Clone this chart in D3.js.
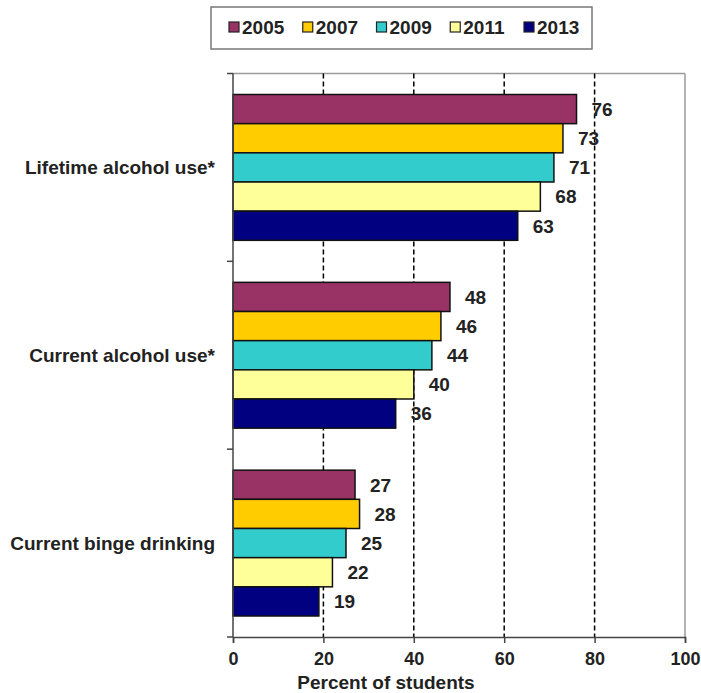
<!DOCTYPE html>
<html>
<head>
<meta charset="utf-8">
<script src="https://cdn.jsdelivr.net/npm/d3@7"></script>
<style>
  html, body { margin: 0; padding: 0; background: #fff; }
  svg { display: block; font-family: Arial, "Liberation Sans", sans-serif; font-weight: bold; }
</style>
</head>
<body>
<svg id="chart" width="701" height="693"></svg>
<script>
// Alcohol use among students, by survey year
const categories = ["Lifetime alcohol use*", "Current alcohol use*", "Current binge drinking"];
const years = ["2005", "2007", "2009", "2011", "2013"];
const values2005 = [76, 48, 27];
const values2007 = [73, 46, 28];
const values2009 = [71, 44, 25];
const values2011 = [68, 40, 22];
const values2013 = [63, 36, 19];
const xTicks = [0, 20, 40, 60, 80, 100];
const colors = ["#993366", "#FFCC00", "#33CCCC", "#FFFF99", "#000080"];

const seriesValues = [values2005, values2007, values2009, values2011, values2013];
const rows = [];
categories.forEach((c, ci) => {
  years.forEach((y, yi) => rows.push({ category: c, year: y, value: seriesValues[yi][ci], color: colors[yi] }));
});

const svg = d3.select("#chart");
const m = { left: 233, right: 685, top: 73.5, bottom: 637 };

const x = d3.scaleLinear().domain([0, 100]).range([m.left, m.right]);
const y = d3.scaleBand().domain(categories).range([m.top, m.bottom]);
const bandPad = 21;
const yInner = d3.scaleBand().domain(years).range([bandPad, y.bandwidth() - bandPad]);

// plot frame (top and right)
svg.append("line").attr("x1", m.left).attr("x2", m.right).attr("y1", m.top).attr("y2", m.top)
  .attr("stroke", "#9a9a9a").attr("stroke-width", 1.5);
svg.append("line").attr("x1", m.right).attr("x2", m.right).attr("y1", m.top).attr("y2", m.bottom)
  .attr("stroke", "#9a9a9a").attr("stroke-width", 1.5);

// dashed vertical gridlines
svg.append("g").selectAll("line").data(xTicks.filter(t => t > 0 && t < 100)).join("line")
  .attr("x1", d => x(d)).attr("x2", d => x(d))
  .attr("y1", m.top).attr("y2", m.bottom)
  .attr("stroke", "#000").attr("stroke-width", 1.5).attr("stroke-dasharray", "5,3");

// bars
svg.append("g").selectAll("rect").data(rows).join("rect")
  .attr("x", x(0))
  .attr("y", d => y(d.category) + yInner(d.year))
  .attr("width", d => x(d.value) - x(0))
  .attr("height", yInner.bandwidth())
  .attr("fill", d => d.color)
  .attr("stroke", "#111").attr("stroke-width", 1.5);

// value labels
svg.append("g").selectAll("text").data(rows).join("text")
  .attr("x", d => x(d.value) + 15)
  .attr("y", d => y(d.category) + yInner(d.year) + yInner.bandwidth() / 2)
  .attr("dy", "0.36em")
  .attr("font-size", 19)
  .attr("fill", "#222")
  .text(d => d.value);

// x axis
const xAxis = svg.append("g").attr("transform", `translate(0,${m.bottom})`)
  .call(d3.axisBottom(x).tickValues(xTicks).tickSize(6).tickPadding(9));
xAxis.select(".domain").attr("stroke", "#444").attr("stroke-width", 1.5);
xAxis.selectAll(".tick line").attr("stroke", "#444").attr("stroke-width", 1.5);
xAxis.selectAll(".tick text").attr("font-size", 18).attr("font-family", null).attr("fill", "#222");

// y axis: ticks at band boundaries, labels at band centres
const yAxis = svg.append("g").attr("transform", `translate(${m.left},0)`);
yAxis.append("line").attr("x1", 0).attr("x2", 0).attr("y1", m.top).attr("y2", m.bottom)
  .attr("stroke", "#444").attr("stroke-width", 1.5);
const boundaries = categories.map(c => y(c)).concat([y.range()[1]]);
yAxis.selectAll("line.tk").data(boundaries).join("line").attr("class", "tk")
  .attr("x1", -6).attr("x2", 0).attr("y1", d => d).attr("y2", d => d)
  .attr("stroke", "#444").attr("stroke-width", 1.5);
svg.append("g").selectAll("text").data(categories).join("text")
  .attr("x", 215)
  .attr("y", d => y(d) + y.bandwidth() / 2)
  .attr("dy", "0.36em")
  .attr("text-anchor", "end")
  .attr("font-size", 19)
  .attr("fill", "#222")
  .text(d => d);

// axis title
svg.append("text").attr("x", 386).attr("y", 682).attr("dy", "0.36em")
  .attr("text-anchor", "middle").attr("font-size", 19).attr("fill", "#222")
  .text("Percent of students");

// legend
const legend = svg.append("g");
legend.append("rect").attr("x", 211).attr("y", 7).attr("width", 381).attr("height", 42)
  .attr("fill", "#fff").attr("stroke", "#777").attr("stroke-width", 1.5);
const legendX = d3.scalePoint().domain(years).range([229, 524]);
const li = legend.selectAll("g").data(years).join("g")
  .attr("transform", d => `translate(${legendX(d)},0)`);
li.append("rect").attr("x", 0).attr("y", 22).attr("width", 10).attr("height", 10)
  .attr("fill", (d, i) => colors[i]).attr("stroke", "#222").attr("stroke-width", 1.2);
li.append("text").attr("x", 13).attr("y", 27).attr("dy", "0.36em")
  .attr("font-size", 19).attr("fill", "#222").text(d => d);
</script>
</body>
</html>
